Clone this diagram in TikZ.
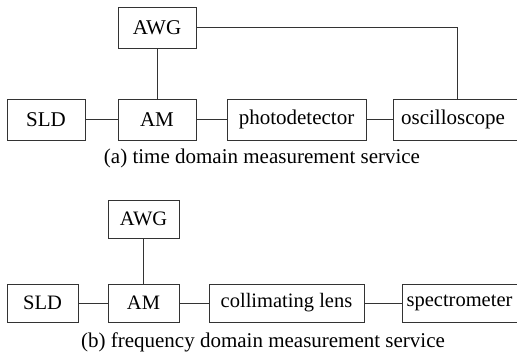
\documentclass[tikz,border=0pt]{standalone}
\usepackage{fontspec}
\setmainfont{Liberation Serif}
\newfontfamily\tnrfont{Liberation Serif}
\begin{document}
\begin{tikzpicture}[x=1pt,y=-1pt,
  box/.style={draw=black!80,line width=0.9pt,inner sep=0pt,font=\tnrfont\fontsize{21}{24}\selectfont},
  topbox/.style={box,minimum height=41pt},
  botbox/.style={box,minimum height=38pt,font=\tnrfont\fontsize{20.5}{24}\selectfont},
  link/.style={draw=black!80,line width=0.9pt},
  captext/.style={font=\tnrfont\fontsize{21}{24}\selectfont,inner sep=0pt}]
\useasboundingbox (0,0) rectangle (517,354);
% (a)
\node[topbox,minimum width=78pt] (awgA) at (157,27.5) {AWG};
\node[topbox,minimum width=78pt] (sldA) at (46,119.5) {SLD};
\node[topbox,minimum width=78pt] (amA) at (157,119.5) {AM};
\node[topbox,minimum width=139pt] (pdA) at (296.5,119.5) {photodetector};
\node[topbox,minimum width=128pt] (oscA) at (457,119.5) {\hspace*{-8pt}oscilloscope};
\draw[link] (sldA) -- (amA);
\draw[link] (amA) -- (pdA);
\draw[link] (pdA) -- (oscA);
\draw[link] (awgA) -- (amA);
\draw[link] (awgA.east) -| (oscA.north);
\node[captext] (capA) at (262,158) {(a) time domain measurement service};
% (b)
\node[botbox,minimum width=71pt] (awgB) at (143.5,219) {AWG};
\node[botbox,minimum width=71pt] (sldB) at (42.5,303) {SLD};
\node[botbox,minimum width=71pt] (amB) at (143.5,303) {AM};
\node[botbox,minimum width=155pt] (colB) at (286.5,303) {collimating lens};
\node[botbox,minimum width=118pt] (speB) at (461,303) {\hspace*{-3pt}spectrometer};
\draw[link] (sldB) -- (amB);
\draw[link] (amB) -- (colB);
\draw[link] (colB) -- (speB);
\draw[link] (awgB) -- (amB);
\node[captext] (capB) at (263,342) {(b) frequency domain measurement service};
\end{tikzpicture}
\end{document}
